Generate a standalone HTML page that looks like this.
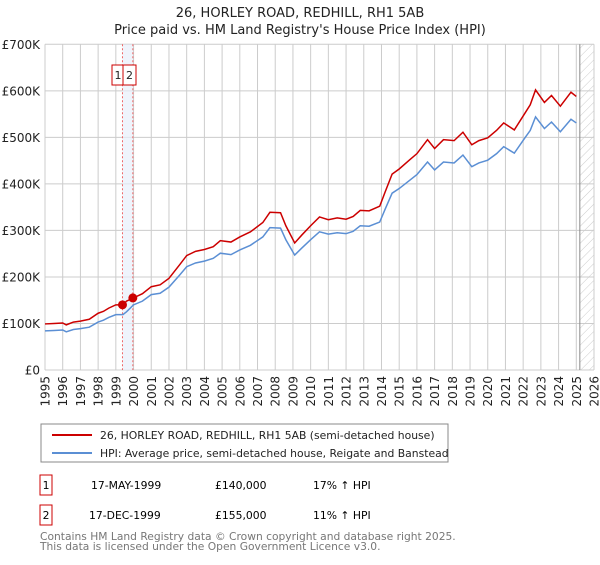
<!DOCTYPE html>
<html><head><meta charset="utf-8"><style>
body{margin:0;background:#fff;font-family:"Liberation Sans","DejaVu Sans",sans-serif;}
svg text{font-family:"DejaVu Sans","Liberation Sans",sans-serif;}
</style></head><body>
<svg id="c" width="600" height="560" xmlns="http://www.w3.org/2000/svg">
<defs><pattern id="hatch" width="6" height="6" patternUnits="userSpaceOnUse" patternTransform="rotate(45)"><line x1="0" y1="0" x2="0" y2="6" stroke="#ccc" stroke-width="1"/></pattern></defs>
<text x="300" y="17" text-anchor="middle" font-size="13" fill="#222">26, HORLEY ROAD, REDHILL, RH1 5AB</text>
<text x="300" y="34" text-anchor="middle" font-size="13" fill="#222">Price paid vs. HM Land Registry's House Price Index (HPI)</text>
<g id="grid"></g><g id="marks"></g><g id="axes"></g>
<rect x="41" y="424" width="407" height="38" fill="#fff" stroke="#888"/>
<line x1="52" y1="435" x2="92" y2="435" stroke="#cc0000" stroke-width="2"/>
<text x="100" y="439" font-size="10.8" fill="#222">26, HORLEY ROAD, REDHILL, RH1 5AB (semi-detached house)</text>
<line x1="52" y1="453" x2="92" y2="453" stroke="#5b8fd4" stroke-width="2"/>
<text x="100" y="457" font-size="10.8" fill="#222">HPI: Average price, semi-detached house, Reigate and Banstead</text>
<g>
<rect x="40" y="475" width="12" height="20" fill="#fff" stroke="#cc0000"/><text x="46" y="489" text-anchor="middle" font-size="10.8">1</text>
<text x="91" y="489" font-size="10.8">17-MAY-1999</text><text x="215" y="489" font-size="10.8">£140,000</text><text x="313" y="489" font-size="10.8">17% ↑ HPI</text></g>
<g>
<rect x="40" y="505" width="12" height="20" fill="#fff" stroke="#cc0000"/><text x="46" y="519" text-anchor="middle" font-size="10.8">2</text>
<text x="89" y="519" font-size="10.8">17-DEC-1999</text><text x="215" y="519" font-size="10.8">£155,000</text><text x="313" y="519" font-size="10.8">11% ↑ HPI</text></g>
<text x="40" y="540" font-size="10.7" fill="#777">Contains HM Land Registry data © Crown copyright and database right 2025.</text>
<text x="40" y="550" font-size="10.7" fill="#777">This data is licensed under the Open Government Licence v3.0.</text>
</svg>
<script>
const yearTicks=[1995,1996,1997,1998,1999,2000,2001,2002,2003,2004,2005,2006,2007,2008,2009,2010,2011,2012,2013,2014,2015,2016,2017,2018,2019,2020,2021,2022,2023,2024,2025,2026];
const valueTicks=[0,100,200,300,400,500,600,700];
const valueLabels=["£0","£100K","£200K","£300K","£400K","£500K","£600K","£700K"];
const hpiYears=[1995.0,1995.5,1996.0,1996.2,1996.6,1997.0,1997.5,1998.0,1998.3,1998.6,1999.0,1999.4,1999.6,2000.0,2000.5,2001.0,2001.5,2002.0,2002.6,2003.0,2003.5,2004.0,2004.5,2004.9,2005.5,2006.0,2006.6,2007.3,2007.7,2008.3,2008.6,2009.1,2009.5,2010.0,2010.5,2011.0,2011.5,2012.0,2012.4,2012.8,2013.3,2013.9,2014.2,2014.6,2015.0,2015.6,2016.0,2016.6,2017.0,2017.5,2018.1,2018.6,2019.1,2019.5,2020.0,2020.5,2020.9,2021.5,2022.1,2022.4,2022.7,2023.2,2023.6,2024.1,2024.7,2025.0];
const hpiValues=[84,85,86,82,87,89,92,103,107,113,119,119,125,140,148,162,165,178,204,222,230,234,240,251,248,258,268,286,306,305,280,247,262,280,297,292,295,293,298,310,309,318,345,380,390,408,420,447,430,447,445,462,437,445,451,465,480,466,499,515,544,519,533,512,539,531];
const propValues=[99,100,101,97,103,105,109,122,126,133,140,140,148,155,164,179,183,197,226,246,255,259,265,278,275,286,297,317,339,338,310,273,290,310,329,323,327,324,330,343,342,352,382,421,432,452,465,495,476,495,493,511,484,493,499,515,531,516,552,570,602,575,590,567,597,588];
const saleYears=[1999.375,1999.96];
const saleValues=[140,155];
const saleLabels=["1","2"];
const X0=45,X1=594,Y0=370,Y1=44.3;
const xs=y=>X0+(y-1995)/(2026-1995)*(X1-X0);
const ys=v=>Y0-v/700*(Y0-Y1);
const NS="http://www.w3.org/2000/svg";
function mk(p,t,a){const e=document.createElementNS(NS,t);for(const k in a)e.setAttribute(k,a[k]);p.appendChild(e);return e;}
const grid=document.getElementById('grid'),marks=document.getElementById('marks'),axes=document.getElementById('axes');
yearTicks.forEach(y=>{const l=mk(grid,'line',{x1:xs(y),x2:xs(y),y1:Y1,y2:Y0,stroke:'#ccc','stroke-width':1});


const t=mk(axes,'text',{x:0,y:0,'font-size':12,fill:'#222','text-anchor':'end',transform:`translate(${xs(y)+4.5},376) rotate(-90)`});t.textContent=y;

});
valueTicks.forEach((v,i)=>{const l=mk(grid,'line',{x1:X0,x2:X1,y1:ys(v),y2:ys(v),stroke:'#ccc','stroke-width':1});


const t=mk(axes,'text',{x:40,y:ys(v)+4.5,'font-size':12,fill:'#222','text-anchor':'end'});t.textContent=valueLabels[i];

});
const hx=xs(2025.2);
const h=mk(grid,'rect',{x:hx,y:Y1,width:X1-hx,height:Y0-Y1,fill:'url(#hatch)'});


const hl=mk(grid,'line',{x1:hx,x2:hx,y1:Y1,y2:Y0,stroke:'#888'});


const band=mk(grid,'rect',{x:xs(saleYears[0]),y:Y1,width:xs(saleYears[1])-xs(saleYears[0]),height:Y0-Y1,fill:'#e8f0fb',opacity:0.7});


saleYears.forEach(y=>{const l=mk(grid,'line',{x1:xs(y),x2:xs(y),y1:Y1,y2:Y0,stroke:'#ee6666','stroke-dasharray':'2,2'});

});
const hp=mk(marks,'polyline',{points:hpiYears.map((y,i)=>xs(y)+','+ys(hpiValues[i])).join(' '),fill:'none',stroke:'#5b8fd4','stroke-width':1.5});


const pp=mk(marks,'polyline',{points:hpiYears.map((y,i)=>xs(y)+','+ys(propValues[i])).join(' '),fill:'none',stroke:'#cc0000','stroke-width':1.5});


saleYears.forEach((y,i)=>{const c=mk(marks,'circle',{cx:xs(y),cy:ys(saleValues[i]),r:4.5,fill:'#cc0000'});


const g=mk(marks,'g',{});


mk(g,'rect',{x:i==0?112:123,y:65,width:i==0?11:13,height:20,fill:'#fff',stroke:'#cc0000'});
const t=mk(g,'text',{x:i==0?118:129.5,y:79,'font-size':11,'text-anchor':'middle',fill:'#222'});t.textContent=saleLabels[i];});
</script>
</body></html>
